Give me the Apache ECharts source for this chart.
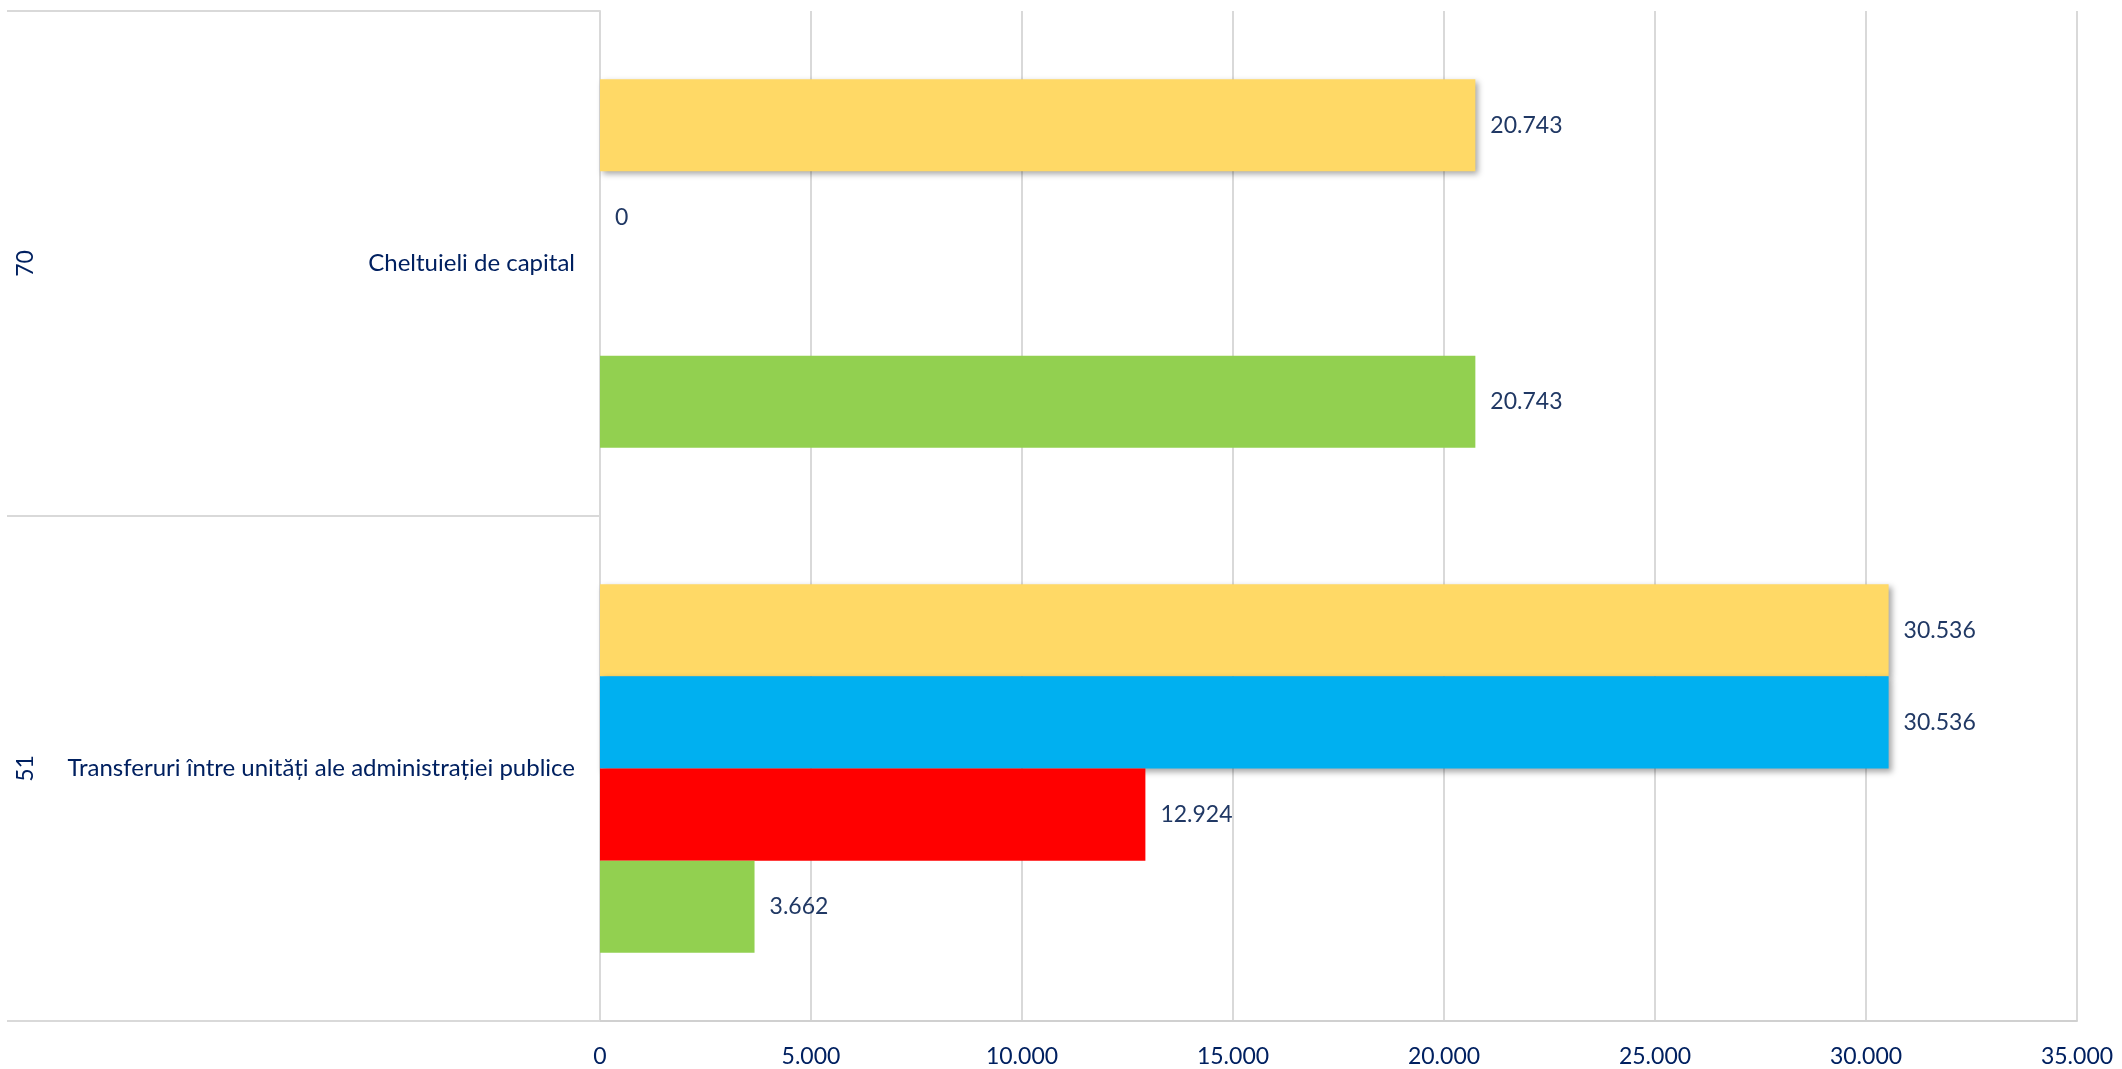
<!DOCTYPE html>
<html>
<head>
<meta charset="utf-8">
<script src="https://cdn.jsdelivr.net/npm/echarts@6/dist/echarts.min.js"></script>
<style>
html,body{margin:0;padding:0;background:#fff;}
#chart{width:2122px;height:1069px;}
</style>
</head>
<body>
<div id="chart"></div>
<script>
const categoryCodes = ['51', '70'];
const categoryNames = ['Transferuri între unități ale administrației publice', 'Cheltuieli de capital'];
const xTicks = { min: 0, max: 35000, interval: 5000 };
const seriesYellow = [30536, 20743];
const seriesBlue = [30536, 0];
const seriesRed = [12924, null];
const seriesGreen = [3662, 20743];

const FONT = 'Lato';
function fmt(v) {
  return String(Math.round(v)).replace(/\B(?=(\d{3})+(?!\d))/g, '.');
}
const labelCfg = {
  show: true, position: 'right', distance: 15,
  color: '#203864', fontFamily: FONT, fontSize: 23,
  formatter: p => (p.value === null || p.value === undefined) ? '' : fmt(p.value)
};
const shadow = { shadowColor: 'rgba(0,0,0,0.35)', shadowBlur: 6, shadowOffsetX: 3, shadowOffsetY: 3 };

const chart = echarts.init(document.getElementById('chart'));
chart.setOption({
  animation: false,
  grid: { left: 600, right: 45, top: 11, bottom: 48, containLabel: false },
  xAxis: {
    type: 'value', min: xTicks.min, max: xTicks.max, interval: xTicks.interval,
    axisLine: { show: true, lineStyle: { color: '#D0D0D0', width: 2 } },
    axisTick: { show: false },
    splitLine: { show: true, lineStyle: { color: '#D9D9D9', width: 2 } },
    axisLabel: { color: '#002060', fontFamily: FONT, fontSize: 23, margin: 24, formatter: v => fmt(v) }
  },
  yAxis: [
    {
      type: 'category', data: categoryNames, position: 'left',
      axisLine: { show: true, lineStyle: { color: '#D9D9D9', width: 2 } },
      axisTick: { show: true, length: 593, interval: 0, lineStyle: { color: '#D9D9D9', width: 2 } },
      axisLabel: { color: '#002060', fontFamily: FONT, fontSize: 24, margin: 25 }
    },
    {
      type: 'category', data: categoryCodes, position: 'left',
      axisLine: { show: false }, axisTick: { show: false },
      axisLabel: { color: '#002060', fontFamily: FONT, fontSize: 23, rotate: 90, margin: 563 }
    }
  ],
  series: [
    { name: 'Seria 1', type: 'bar', data: seriesYellow, barGap: '0%', barCategoryGap: '27%',
      itemStyle: Object.assign({ color: '#FFD966' }, shadow), label: labelCfg },
    { name: 'Seria 2', type: 'bar', data: seriesBlue, barGap: '0%', barCategoryGap: '27%',
      itemStyle: Object.assign({ color: '#00B0F0' }, shadow), label: labelCfg },
    { name: 'Seria 3', type: 'bar', data: seriesRed, barGap: '0%', barCategoryGap: '27%',
      itemStyle: { color: '#FF0000' }, label: labelCfg },
    { name: 'Seria 4', type: 'bar', data: seriesGreen, barGap: '0%', barCategoryGap: '27%',
      itemStyle: { color: '#92D050' }, label: labelCfg }
  ]
});
</script>
</body>
</html>
